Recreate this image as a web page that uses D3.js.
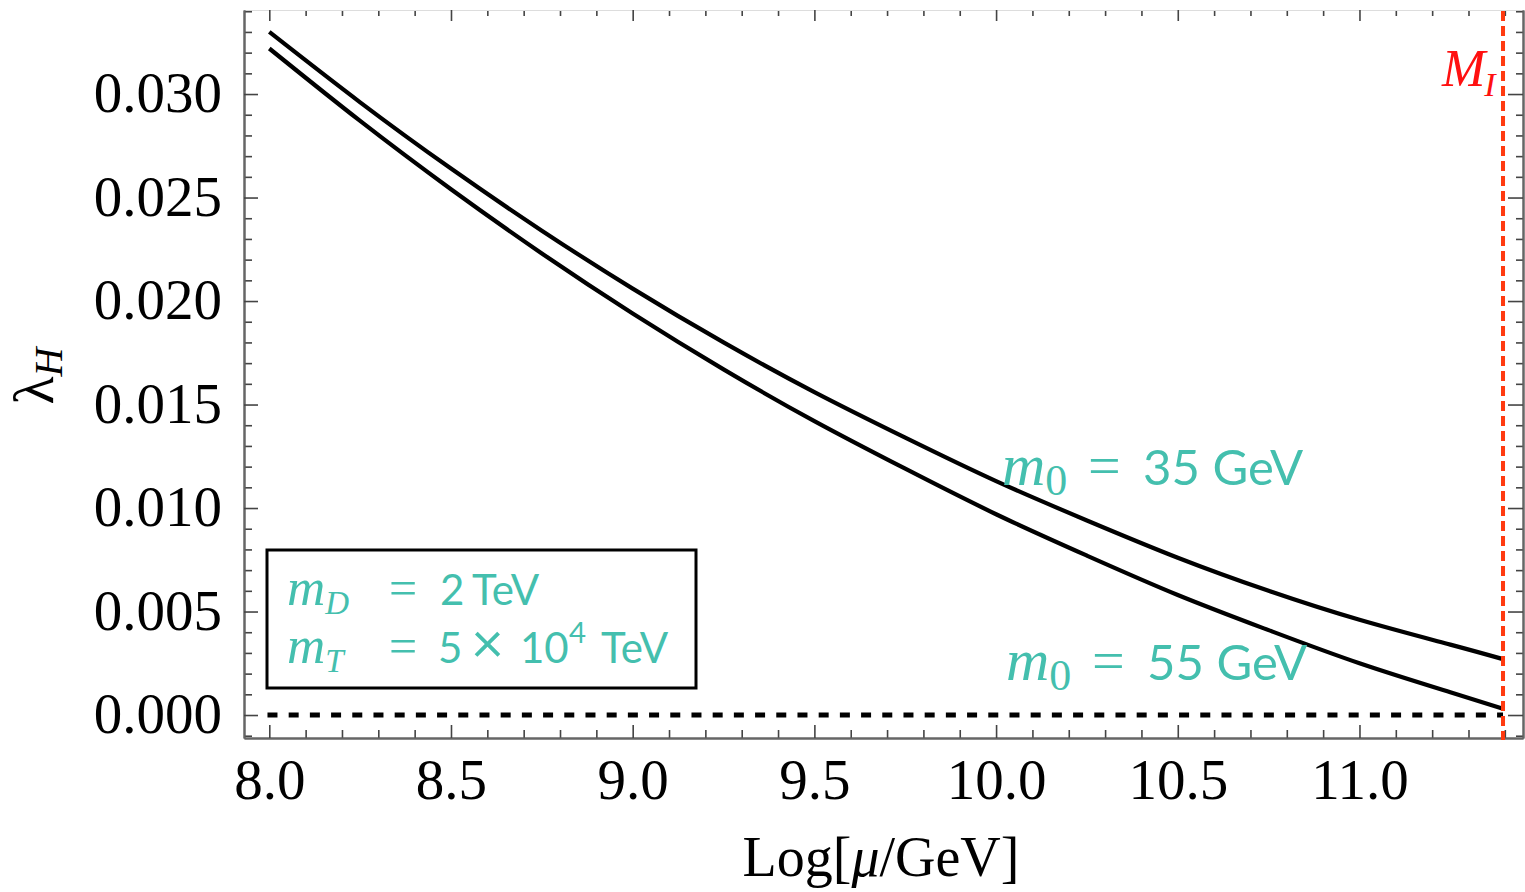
<!DOCTYPE html>
<html><head><meta charset="utf-8">
<script src="https://cdn.jsdelivr.net/npm/d3@7"></script>
<style>body{margin:0;background:#fff}svg{display:block}</style>
</head><body>
<svg id="c" width="1525" height="892"></svg>
<script>
// ---- data ----
const muLog = [8.0, 8.25, 8.5, 8.75, 9.0, 9.25, 9.5, 9.75, 10.0, 10.25, 10.5, 10.75, 11.0, 11.25, 11.395];
const lam35 = [0.0330, 0.0296, 0.0264, 0.0234, 0.0206, 0.0180, 0.0156, 0.0134, 0.0113, 0.0094, 0.0076, 0.0060, 0.0046, 0.0034, 0.0027];
const lam55 = [0.0322, 0.0287, 0.0254, 0.0223, 0.0194, 0.0167, 0.0142, 0.0119, 0.0097, 0.0077, 0.0058, 0.0041, 0.0025, 0.0011, 0.0003];
const xMajor = [8.0, 8.5, 9.0, 9.5, 10.0, 10.5, 11.0];
const xTickLabels = ["8.0", "8.5", "9.0", "9.5", "10.0", "10.5", "11.0"];
const yMajor = [0.000, 0.005, 0.010, 0.015, 0.020, 0.025, 0.030];
const yTickLabels = ["0.000", "0.005", "0.010", "0.015", "0.020", "0.025", "0.030"];
const MI = 11.395;
const zeroLine = [[7.995, 0], [11.395, 0]];

// ---- layout ----
const svg = d3.select("#c");
const L = 244, R = 1523, T = 10, B = 738;
const x = d3.scaleLinear().domain([7.9304, 11.450]).range([L, R]);
const y = d3.scaleLinear().domain([-0.00111, 0.03406]).range([B, T]);
const teal = "#44bfae";
const serif = "'Liberation Serif','Times New Roman',serif";
const sans = "Lato,'Open Sans',sans-serif";

const xMinor = d3.range(79, 115).map(d => d / 10).filter(v => v >= 7.94 && v <= 11.45 && Math.abs(v*2 - Math.round(v*2)) > 1e-6);
const yMinor = d3.range(-1, 35).map(d => d / 1000).filter(v => Math.abs(v*200 - Math.round(v*200)) > 1e-6);

function styleAxis(g) {
  g.select(".domain").attr("stroke", "#666").attr("stroke-width", 2);
  g.selectAll(".tick line").attr("stroke", "#444").attr("stroke-width", 1.6);
  g.selectAll(".tick text").attr("font-family", serif).attr("font-size", 57).attr("fill", "#000");
}

// bottom
svg.append("g").attr("transform", `translate(0,${B})`)
  .call(d3.axisBottom(x).tickValues(xMinor).tickSize(-8).tickSizeOuter(0).tickFormat(""))
  .call(styleAxis);
svg.append("g").attr("transform", `translate(0,${B})`)
  .call(d3.axisBottom(x).tickValues(xMajor).tickSize(-13).tickSizeOuter(0).tickPadding(21)
    .tickFormat((d, i) => xTickLabels[i]))
  .call(styleAxis);
// top
svg.append("g").attr("transform", `translate(0,${T})`)
  .call(d3.axisTop(x).tickValues(xMinor).tickSize(-6).tickSizeOuter(0).tickFormat(""))
  .call(styleAxis).call(g => g.select(".domain").attr("stroke", "#ddd").attr("stroke-width", 1));
svg.append("g").attr("transform", `translate(0,${T})`)
  .call(d3.axisTop(x).tickValues(xMajor).tickSize(-11).tickSizeOuter(0).tickFormat(""))
  .call(styleAxis).call(g => g.select(".domain").attr("stroke", "#ddd").attr("stroke-width", 1));
// left
svg.append("g").attr("transform", `translate(${L},0)`)
  .call(d3.axisLeft(y).tickValues(yMinor).tickSize(-8).tickSizeOuter(0).tickFormat(""))
  .call(styleAxis);
svg.append("g").attr("transform", `translate(${L},0)`)
  .call(d3.axisLeft(y).tickValues(yMajor).tickSize(-14).tickSizeOuter(0).tickPadding(22)
    .tickFormat((d, i) => yTickLabels[i]))
  .call(styleAxis)
  .call(g => g.selectAll(".tick text").attr("dy", "0.31em"));
// right
svg.append("g").attr("transform", `translate(${R},0)`)
  .call(d3.axisRight(y).tickValues(yMinor).tickSize(-7).tickSizeOuter(0).tickFormat(""))
  .call(styleAxis);
svg.append("g").attr("transform", `translate(${R},0)`)
  .call(d3.axisRight(y).tickValues(yMajor).tickSize(-15).tickSizeOuter(0).tickFormat(""))
  .call(styleAxis);

// zero dotted line
svg.append("path").datum(zeroLine)
  .attr("d", d3.line().x(d => x(d[0])).y(d => y(d[1])))
  .attr("fill", "none").attr("stroke", "#000").attr("stroke-width", 5)
  .attr("stroke-dasharray", "10,11.2");

// curves
const line = d3.line().curve(d3.curveNatural).x(d => x(d[0])).y(d => y(d[1]));
[lam35, lam55].forEach(arr => {
  svg.append("path").datum(muLog.map((m, i) => [m, arr[i]]))
    .attr("d", line).attr("fill", "none").attr("stroke", "#000").attr("stroke-width", 4.2);
});

// M_I line
svg.append("line").attr("x1", x(MI)).attr("x2", x(MI)).attr("y1", T + 1).attr("y2", B + 2)
  .attr("stroke", "#ff3a10").attr("stroke-width", 4).attr("stroke-dasharray", "10,5");
const mi = svg.append("text").attr("x", 1442).attr("y", 86).attr("fill", "#ff1010")
  .attr("font-family", serif).attr("font-style", "italic").attr("font-size", 52);
mi.append("tspan").text("M");
mi.append("tspan").attr("font-size", 34).attr("dy", 10).attr("dx", -1).text("I");

// legend box
svg.append("rect").attr("x", 267).attr("y", 550).attr("width", 429).attr("height", 138)
  .attr("fill", "#fff").attr("stroke", "#000").attr("stroke-width", 3);

function mathLabel(xm, yb, sub, sizeM, sizeSub, subDy, xEq, sizeEq, valParts, sizeVal) {
  const t = svg.append("text").attr("x", xm).attr("y", yb).attr("fill", teal);
  t.append("tspan").attr("font-family", serif).attr("font-style", "italic").attr("font-size", sizeM).text("m");
  t.append("tspan").attr("font-family", serif).attr("font-style", sub.italic ? "italic" : "normal")
    .attr("font-size", sizeSub).attr("dy", subDy).text(sub.t);
  svg.append("text").attr("x", xEq).attr("y", yb).attr("fill", teal)
    .attr("font-family", serif).attr("font-size", sizeEq).text("=");
  const v = svg.append("text").attr("y", yb).attr("fill", teal)
    .attr("font-family", sans).attr("font-size", sizeVal);
  valParts.forEach(p => {
    const s = v.append("tspan").attr("x", p.x).attr("y", yb - (p.sup ? 20 : 0)).text(p.t);
    if (p.sup) s.attr("font-size", sizeVal * 0.7);
    if (p.big) s.attr("font-size", sizeVal * 1.35);
  });
}
mathLabel(287, 605, {t: "D", italic: true}, 53, 33, 9, 389, 50,
  [{t: "2", x: 440}, {t: "TeV", x: 472}], 42);
mathLabel(287, 663, {t: "T", italic: true}, 53, 33, 9, 389, 50,
  [{t: "5", x: 438}, {t: "×", x: 471, big: true}, {t: "10", x: 520}, {t: "4", x: 569, sup: true}, {t: "TeV", x: 601}], 42);
mathLabel(1002, 485, {t: "0", italic: false}, 60, 44, 10, 1088, 58,
  [{t: "35 GeV", x: 1143}], 49);
mathLabel(1006, 680, {t: "0", italic: false}, 60, 44, 10, 1092, 58,
  [{t: "55 GeV", x: 1147}], 49);

// axis titles
const xt = svg.append("text").attr("x", 881).attr("y", 876).attr("text-anchor", "middle")
  .attr("font-family", serif).attr("font-size", 56).attr("fill", "#000");
xt.append("tspan").text("Log[");
xt.append("tspan").attr("font-style", "italic").text("μ");
xt.append("tspan").text("/GeV]");

const yt = svg.append("text").attr("transform", "translate(53,376) rotate(-90)")
  .attr("text-anchor", "middle").attr("font-family", serif).attr("font-size", 58).attr("fill", "#000");
yt.append("tspan").text("λ");
yt.append("tspan").attr("font-style", "italic").attr("font-size", 40).attr("dy", 9).text("H");
</script>
</body></html>
